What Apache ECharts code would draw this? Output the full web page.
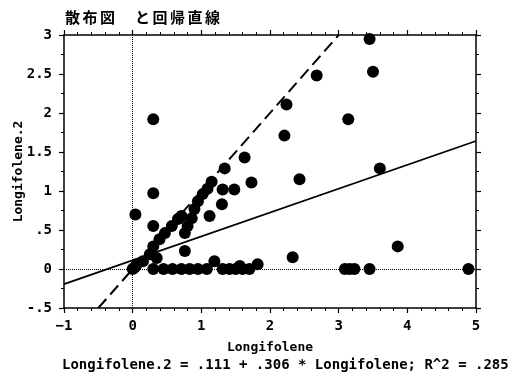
<!DOCTYPE html>
<html>
<head>
<meta charset="utf-8">
<script src="https://cdn.jsdelivr.net/npm/echarts@6/dist/echarts.min.js"></script>
<style>
  html, body { margin: 0; padding: 0; background: #fff; }
  #chart { width: 526px; height: 380px; }
</style>
</head>
<body>
<div id="chart"></div>
<script>
// Scatter of Longifolene vs Longifolene.2 with fitted regression and identity line
const titleText = '散布図　と回帰直線';
const xName = 'Longifolene';
const yName = 'Longifolene.2';
const fitText = 'Longifolene.2 = .111 + .306 * Longifolene; R^2 = .285';

const longifolene = [
  0.00, 0.03, 0.06, 0.04, 0.15, 0.25, 0.30, 0.35,
  0.30, 0.30, 0.30, 0.30,
  0.39, 0.47, 0.57, 0.66, 0.71,
  0.76, 0.80, 0.86, 0.90, 0.95, 1.02, 1.09, 1.15, 1.34,
  1.31, 1.30, 1.12, 0.76, 1.48, 1.63, 1.73,
  0.45, 0.58, 0.71, 0.83, 0.95, 1.08, 1.19, 1.31, 1.41, 1.50, 1.56, 1.60, 1.70, 1.82, 2.33,
  3.09, 3.16, 3.23, 3.45, 4.89, 3.86, 2.43, 3.60, 3.14, 2.21, 2.24, 2.68, 3.50, 3.45
];
const longifolene2 = [
  0.00, 0.02, 0.06, 0.70, 0.10, 0.19, 0.29, 0.14,
  0.00, 0.55, 0.97, 1.92,
  0.38, 0.46, 0.55, 0.64, 0.68,
  0.46, 0.55, 0.65, 0.77, 0.87, 0.96, 1.03, 1.12, 1.29,
  1.02, 0.83, 0.68, 0.23, 1.02, 1.43, 1.11,
  0.00, 0.00, 0.00, 0.00, 0.00, 0.00, 0.10, 0.00, 0.00, 0.00, 0.04, 0.00, 0.00, 0.06, 0.15,
  0.00, 0.00, 0.00, 0.00, 0.00, 0.29, 1.15, 1.29, 1.92, 1.71, 2.11, 2.48, 2.53, 2.95
];

// Regression coefficients and the axis ranges the lines are drawn over
const fitIntercept = 0.111;
const fitSlope = 0.306;
const xRange = [-1, 5];
const yRange = [-0.5, 3];

const points = longifolene.map((x, i) => [x, longifolene2[i]]);
const fitLine = xRange.map(x => [x, fitIntercept + fitSlope * x]);
const identityLine = [[yRange[0], yRange[0]], [yRange[1], yRange[1]]];

const labelFont = { fontFamily: 'DejaVu Sans Mono', fontSize: 14, fontWeight: 'bold', color: '#000' };
const nameFont = { fontFamily: 'DejaVu Sans Mono', fontSize: 13, fontWeight: 'bold', color: '#000' };

function fmtNum(v) {
  let s = String(v);
  if (s.startsWith('0.')) s = s.slice(1);
  if (s.startsWith('-0.')) s = '-' + s.slice(2);
  return s;
}

const chart = echarts.init(document.getElementById('chart'), null, { renderer: 'canvas' });

const baseAxis = {
  axisLine: { show: true, onZero: false, lineStyle: { color: '#000', width: 1.5 } },
  axisTick: { show: true, length: 5, lineStyle: { color: '#000', width: 1.2 } },
  minorTick: { show: true, length: 3, lineStyle: { color: '#000', width: 1 } },
  splitLine: { show: false }
};

chart.setOption({
  animation: false,
  backgroundColor: '#fff',
  title: {
    text: titleText.split('').map(c => '{c|' + c + '}').join(''),
    left: 60, top: 5,
    textStyle: {
      rich: {
        c: { width: 17.5, fontFamily: 'Noto Sans CJK JP', fontSize: 15, fontWeight: 'bold', color: '#000' }
      }
    }
  },
  grid: { left: 64, right: 50, top: 35, bottom: 72, containLabel: false, outerBoundsMode: 'none' },
  xAxis: [
    Object.assign({}, baseAxis, {
      type: 'value', min: xRange[0], max: xRange[1], interval: 1,
      minorTick: Object.assign({}, baseAxis.minorTick, { splitNumber: 5 }),
      axisLabel: Object.assign({ margin: 11, formatter: v => v < 0 ? '\u2212' + Math.abs(v) : String(v) }, labelFont),
      name: xName, nameLocation: 'middle', nameGap: 33, nameMoveOverlap: false,
      nameTextStyle: nameFont
    }),
    Object.assign({}, baseAxis, {
      type: 'value', position: 'top', min: xRange[0], max: xRange[1], interval: 1,
      minorTick: Object.assign({}, baseAxis.minorTick, { splitNumber: 5 }),
      axisLabel: { show: false }
    })
  ],
  yAxis: [
    Object.assign({}, baseAxis, {
      type: 'value', min: yRange[0], max: yRange[1], interval: 0.5,
      minorTick: Object.assign({}, baseAxis.minorTick, { splitNumber: 2 }),
      axisLabel: Object.assign({ margin: 12, formatter: fmtNum }, labelFont),
      name: yName, nameLocation: 'middle', nameGap: 39, nameRotate: 90, nameMoveOverlap: false,
      nameTextStyle: nameFont
    }),
    Object.assign({}, baseAxis, {
      type: 'value', position: 'right', min: yRange[0], max: yRange[1], interval: 0.5,
      minorTick: Object.assign({}, baseAxis.minorTick, { splitNumber: 2 }),
      axisLabel: { show: false }
    })
  ],
  graphic: [{
    type: 'text', left: 62, top: 358,
    style: { text: fitText, font: 'bold 14px "DejaVu Sans Mono"', fill: '#000' }
  }],
  series: [
    {
      type: 'line', data: fitLine, symbol: 'none', clip: true,
      lineStyle: { color: '#000', width: 1.8 }, z: 3
    },
    {
      type: 'line', data: identityLine, symbol: 'none', clip: true,
      lineStyle: { color: '#000', width: 2, type: [12, 6] }, z: 3
    },
    {
      type: 'scatter', data: points, symbol: 'circle', symbolSize: 12, clip: true,
      itemStyle: { color: '#000', opacity: 1 }, z: 4,
      markLine: {
        silent: true, symbol: 'none', label: { show: false },
        lineStyle: { color: '#000', width: 1, type: 'dotted' },
        data: [{ xAxis: 0 }, { yAxis: 0 }]
      }
    }
  ]
});
</script>
</body>
</html>
